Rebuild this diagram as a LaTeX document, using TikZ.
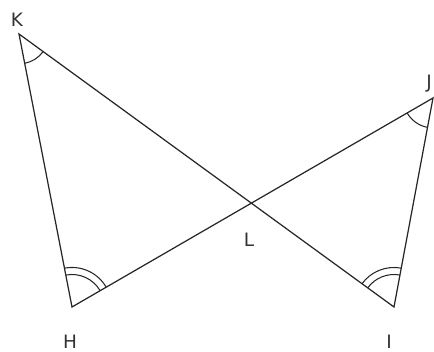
\documentclass[tikz,border=0pt]{standalone}
\usepackage{fontspec}
\setmainfont{DejaVu Sans}
\usetikzlibrary{angles}

\begin{document}
\begin{tikzpicture}[x=0.02cm, y=0.02cm,
  side/.style={line width=0.7pt, black!85},
  arcmark/.style={draw, line width=0.6pt, black!85},
  lbl/.style={font=\fontsize{10.5}{12}\selectfont, text=black!80}]
\useasboundingbox (0,0) rectangle (434,352);
\coordinate (K) at (19,318);
\coordinate (H) at (72,45);
\coordinate (I) at (394,45);
\coordinate (J) at (433,254);
\coordinate (L) at (251,149);
\draw[side] (K) -- (H) -- (J) -- (I) -- cycle;
\pic[arcmark, angle radius=17pt] {angle=H--K--I};
\pic[arcmark, angle radius=17pt] {angle=H--J--I};
\pic[arcmark, angle radius=18.5pt] {angle=J--H--K};
\pic[arcmark, angle radius=22.5pt] {angle=J--H--K};
\pic[arcmark, angle radius=18.5pt] {angle=J--I--K};
\pic[arcmark, angle radius=22.5pt] {angle=J--I--K};
\node[lbl] (kl) at (17,332) {K};
\node[lbl] (jl) at (429,268) {J};
\node[lbl] (hl) at (70,10) {H};
\node[lbl] (il) at (389,10) {I};
\node[lbl] (ll) at (249,112) {L};
\end{tikzpicture}
\end{document}
